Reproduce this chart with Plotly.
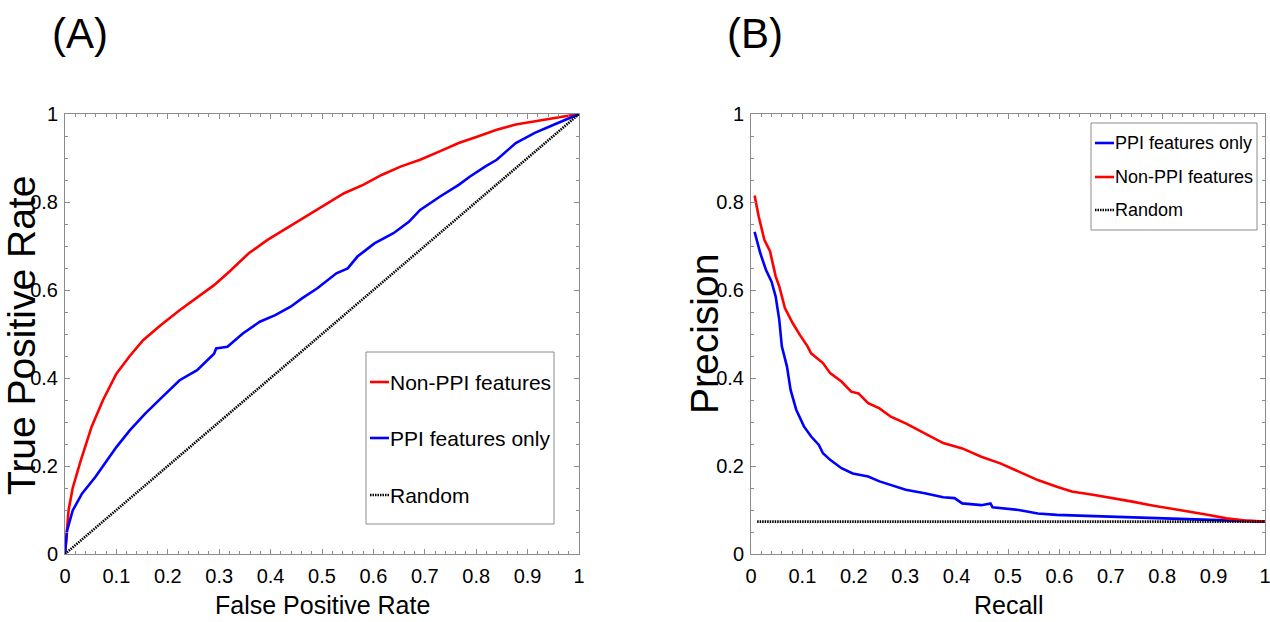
import plotly.graph_objects as go

# ---------------- data ----------------
roc_nonppi_fpr = [0.0, 0.003, 0.007, 0.015, 0.03, 0.052, 0.074, 0.1, 0.126, 0.152, 0.186, 0.223, 0.26,
                  0.29, 0.32, 0.357, 0.394, 0.431, 0.468, 0.506, 0.543, 0.58, 0.617, 0.654, 0.691,
                  0.729, 0.766, 0.803, 0.84, 0.877, 0.914, 0.952, 1.0]
roc_nonppi_tpr = [0.0, 0.05, 0.1, 0.15, 0.21, 0.29, 0.35, 0.41, 0.45, 0.486, 0.52, 0.554, 0.585,
                  0.611, 0.642, 0.683, 0.714, 0.74, 0.767, 0.793, 0.82, 0.839, 0.862, 0.881, 0.896,
                  0.915, 0.934, 0.949, 0.964, 0.976, 0.983, 0.991, 1.0]

roc_ppi_fpr = [0.0, 0.004, 0.015, 0.033, 0.059, 0.082, 0.1, 0.126, 0.156, 0.186, 0.223, 0.257, 0.283,
               0.29, 0.294, 0.316, 0.346, 0.379, 0.409, 0.439, 0.461, 0.491, 0.528, 0.55, 0.569,
               0.602, 0.639, 0.669, 0.691, 0.729, 0.766, 0.788, 0.818, 0.84, 0.877, 0.914, 0.952, 1.0]
roc_ppi_tpr = [0.0, 0.053, 0.099, 0.137, 0.175, 0.213, 0.243, 0.281, 0.319, 0.353, 0.395, 0.418, 0.448,
               0.455, 0.467, 0.471, 0.501, 0.528, 0.543, 0.562, 0.581, 0.604, 0.638, 0.649, 0.676,
               0.706, 0.729, 0.755, 0.782, 0.812, 0.839, 0.858, 0.881, 0.896, 0.934, 0.957, 0.976, 1.0]

roc_random_fpr = [0.0, 1.0]
roc_random_tpr = [0.0, 1.0]

pr_nonppi_recall = [0.007, 0.015, 0.026, 0.037, 0.048, 0.055, 0.066, 0.081, 0.095, 0.11, 0.117, 0.14,
                    0.154, 0.176, 0.195, 0.209, 0.228, 0.25, 0.272, 0.301, 0.338, 0.374, 0.411, 0.448,
                    0.485, 0.521, 0.558, 0.595, 0.624, 0.668, 0.705, 0.742, 0.778, 0.815, 0.852,
                    0.888, 0.925, 0.962, 1.0]
pr_nonppi_precision = [0.815, 0.767, 0.714, 0.688, 0.631, 0.608, 0.559, 0.525, 0.498, 0.472, 0.456,
                       0.434, 0.411, 0.392, 0.369, 0.365, 0.343, 0.331, 0.312, 0.297, 0.274, 0.252,
                       0.24, 0.221, 0.206, 0.187, 0.168, 0.153, 0.142, 0.134, 0.127, 0.119, 0.111,
                       0.104, 0.096, 0.089, 0.081, 0.076, 0.0735]

pr_ppi_recall = [0.007, 0.018, 0.029, 0.04, 0.048, 0.055, 0.06, 0.07, 0.077, 0.088, 0.103, 0.117, 0.132,
                 0.14, 0.154, 0.176, 0.198, 0.228, 0.25, 0.272, 0.301, 0.338, 0.374, 0.396, 0.411,
                 0.448, 0.466, 0.47, 0.521, 0.558, 0.595, 0.668, 0.742, 0.815, 0.888, 1.0]
pr_ppi_precision = [0.732, 0.684, 0.646, 0.619, 0.585, 0.532, 0.472, 0.426, 0.373, 0.328, 0.29, 0.267,
                    0.248, 0.229, 0.214, 0.195, 0.183, 0.176, 0.165, 0.157, 0.146, 0.138, 0.129,
                    0.127, 0.115, 0.111, 0.115, 0.106, 0.1, 0.092, 0.089, 0.086, 0.083, 0.08, 0.077,
                    0.0735]

pr_random_recall = [0.012, 1.0]
pr_random_precision = [0.0735, 0.0735]

x_tick_vals = [0, 0.1, 0.2, 0.3, 0.4, 0.5, 0.6, 0.7, 0.8, 0.9, 1]
x_tick_text = ["0", "0.1", "0.2", "0.3", "0.4", "0.5", "0.6", "0.7", "0.8", "0.9", "1"]
y_tick_vals = [0, 0.2, 0.4, 0.6, 0.8, 1]
y_tick_text = ["0", "0.2", "0.4", "0.6", "0.8", "1"]

legend_roc = ["Non-PPI features", "PPI features only", "Random"]
legend_pr = ["PPI features only", "Non-PPI features", "Random"]

axis_titles = {"roc_x": "False Positive Rate", "roc_y": "True Positive Rate",
               "pr_x": "Recall", "pr_y": "Precision"}
panel_labels = ["(A)", "(B)"]

# ---------------- styling ----------------
RED = "#ff0000"
BLUE = "#0000ff"
BLACK = "#000000"
AXC = "#8c8c8c"
SANS = "Liberation Sans, Arial, sans-serif"
RAND_DASH = "1.5px,1px"

W, H = 1270, 622
ML, MR, MT, MB = 65, 5, 114, 68
PW, PH = W - ML - MR, H - MT - MB


def px_x(p):
    return (p - ML) / PW


def px_y(p):
    return (H - MB - p) / PH


fig = go.Figure()

line_w = 2.6
rand_w = 2.6
fig.add_trace(go.Scatter(x=roc_nonppi_fpr, y=roc_nonppi_tpr, mode="lines", name=legend_roc[0],
                         line=dict(color=RED, width=line_w), xaxis="x", yaxis="y", showlegend=False))
fig.add_trace(go.Scatter(x=roc_ppi_fpr, y=roc_ppi_tpr, mode="lines", name=legend_roc[1],
                         line=dict(color=BLUE, width=line_w), xaxis="x", yaxis="y", showlegend=False))
fig.add_trace(go.Scatter(x=roc_random_fpr, y=roc_random_tpr, mode="lines", name=legend_roc[2],
                         line=dict(color=BLACK, width=rand_w, dash=RAND_DASH), xaxis="x", yaxis="y",
                         showlegend=False))

fig.add_trace(go.Scatter(x=pr_ppi_recall, y=pr_ppi_precision, mode="lines", name=legend_pr[0],
                         line=dict(color=BLUE, width=line_w), xaxis="x2", yaxis="y2", showlegend=False))
fig.add_trace(go.Scatter(x=pr_nonppi_recall, y=pr_nonppi_precision, mode="lines", name=legend_pr[1],
                         line=dict(color=RED, width=line_w), xaxis="x2", yaxis="y2", showlegend=False))
fig.add_trace(go.Scatter(x=pr_random_recall, y=pr_random_precision, mode="lines", name=legend_pr[2],
                         line=dict(color=BLACK, width=rand_w, dash=RAND_DASH), xaxis="x2", yaxis="y2",
                         showlegend=False))

TICK_FS = 20


def xaxis(domain, anchor):
    return dict(domain=domain, anchor=anchor, range=[0, 1], showline=True, linecolor=AXC, linewidth=1,
                mirror="ticks", ticks="inside", ticklen=5, tickcolor=AXC, tickwidth=1,
                tickvals=x_tick_vals, ticktext=x_tick_text, ticklabelstandoff=4,
                ticklabeloverflow="allow",
                tickfont=dict(family=SANS, size=TICK_FS, color="black"),
                minor=dict(ticks="inside", ticklen=3, tickcolor=AXC, dtick=0.02, tick0=0, showgrid=False),
                showgrid=False, zeroline=False, automargin=False)


def yaxis(anchor):
    return dict(domain=[0, 1], anchor=anchor, range=[0, 1], showline=True, linecolor=AXC, linewidth=1,
                mirror="ticks", ticks="inside", ticklen=5, tickcolor=AXC, tickwidth=1,
                tickvals=y_tick_vals, ticktext=y_tick_text, ticklabelstandoff=2,
                ticklabeloverflow="allow",
                tickfont=dict(family=SANS, size=TICK_FS, color="black"),
                minor=dict(ticks="inside", ticklen=3, tickcolor=AXC, dtick=0.05, tick0=0, showgrid=False),
                showgrid=False, zeroline=False, automargin=False)


shapes = []
annotations = []


def add_legend(box, entries, colors, dashes, line_x, text_x, ys, fsize):
    x0, x1, y0, y1 = box
    shapes.append(dict(type="rect", xref="paper", yref="paper", x0=px_x(x0), x1=px_x(x1),
                       y0=px_y(y1), y1=px_y(y0), line=dict(color="#8c8c8c", width=1),
                       fillcolor="white", layer="above"))
    for name, col, dsh, yy in zip(entries, colors, dashes, ys):
        shapes.append(dict(type="line", xref="paper", yref="paper", x0=px_x(line_x[0]), x1=px_x(line_x[1]),
                           y0=px_y(yy), y1=px_y(yy), line=dict(color=col, width=2.6, dash=dsh),
                           layer="above"))
        annotations.append(dict(xref="paper", yref="paper", x=px_x(text_x), y=px_y(yy), text=name,
                                showarrow=False, xanchor="left", yanchor="middle",
                                font=dict(family=SANS, size=fsize, color="black"), borderpad=0))


add_legend((366, 554, 352, 524), legend_roc, [RED, BLUE, BLACK], ["solid", "solid", RAND_DASH],
           (370, 389), 389, [382, 438, 495], 21)
add_legend((1091, 1257, 123, 230), legend_pr, [BLUE, RED, BLACK], ["solid", "solid", RAND_DASH],
           (1095, 1114), 1114, [143, 177, 210], 18)


def title_ann(text, x, y, size, angle=0):
    annotations.append(dict(xref="paper", yref="paper", x=px_x(x), y=px_y(y), text=text, showarrow=False,
                            xanchor="center", yanchor="middle", textangle=angle, borderpad=0,
                            font=dict(family=SANS, size=size, color="black")))


title_ann(axis_titles["roc_x"], 322, 605, 25)
title_ann(axis_titles["pr_x"], 1008, 605, 25)
title_ann(axis_titles["roc_y"], 21, 336, 39, -90)
title_ann(axis_titles["pr_y"], 704, 334, 39, -90)

annotations.append(dict(xref="paper", yref="paper", x=px_x(50), y=px_y(33), text=panel_labels[0],
                        showarrow=False, xanchor="left", yanchor="middle",
                        font=dict(family=SANS, size=42, color="black")))
annotations.append(dict(xref="paper", yref="paper", x=px_x(725), y=px_y(33), text=panel_labels[1],
                        showarrow=False, xanchor="left", yanchor="middle",
                        font=dict(family=SANS, size=42, color="black")))

left_dom = [0, (579 - ML) / PW]
right_dom = [(751 - ML) / PW, 1]

fig.update_layout(
    width=W, height=H,
    margin=dict(l=ML, r=MR, t=MT, b=MB),
    paper_bgcolor="white", plot_bgcolor="white",
    showlegend=False,
    xaxis=xaxis(left_dom, "y"),
    yaxis=yaxis("x"),
    xaxis2=xaxis(right_dom, "y2"),
    yaxis2=yaxis("x2"),
    shapes=shapes,
    annotations=annotations,
)

fig.write_html("out.html")
